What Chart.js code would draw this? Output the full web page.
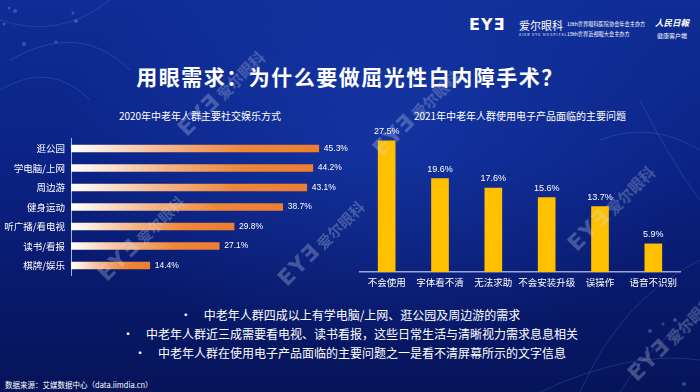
<!DOCTYPE html>
<html>
<head>
<meta charset="utf-8">
<script src="https://cdn.jsdelivr.net/npm/chart.js@4"></script>
<style>
  html,body{margin:0;padding:0;}
  body{width:700px;height:392px;overflow:hidden;position:relative;
    font-family:"Noto Sans CJK SC","Noto Sans",sans-serif;color:#fff;
    background:
      radial-gradient(ellipse at 55% 35%, rgba(30,70,190,0.45) 0%, rgba(30,70,190,0) 60%),
      linear-gradient(180deg,#0f2d95 0%,#0b2386 40%,#08196a 75%,#061459 100%);}
  .abs{position:absolute;white-space:nowrap;}
  #title{left:0;width:700px;top:61px;text-align:center;font-size:21px;font-weight:bold;letter-spacing:1.5px;}
  .ctitle{font-size:10px;top:108px;text-align:center;}
  .bul{left:0;width:700px;text-align:center;font-size:12px;}
  .bul span{margin-right:12px;}
  .wm{position:absolute;color:rgba(215,222,240,0.28);transform:rotate(-45deg);transform-origin:center;white-space:nowrap;font-weight:bold;}
  .wm b{font-family:"DejaVu Sans",sans-serif;font-size:22px;letter-spacing:1px;}
  .wm i{font-style:normal;font-family:"Noto Sans CJK SC";font-size:15px;margin-left:3px;}
  canvas{position:absolute;}
</style>
</head>
<body>
<svg class="abs" style="left:0;top:0" width="700" height="392">
  <g stroke="rgba(120,170,255,0.18)" fill="none" stroke-width="1">
    <path d="M0,20 Q60,40 110,0"/><path d="M10,60 Q80,20 130,70"/><path d="M0,90 Q50,60 90,100"/>
    <path d="M580,392 Q620,300 700,260"/><path d="M620,392 Q660,330 700,320"/><path d="M540,392 Q630,350 700,360"/>
    <path d="M600,140 Q650,120 700,150"/><path d="M640,100 Q670,160 700,200"/>
  </g>
  <g fill="rgba(120,170,255,0.35)">
    <circle cx="9" cy="8" r="1.5"/><circle cx="15" cy="11" r="2"/><circle cx="4" cy="24" r="1.5"/><circle cx="24" cy="44" r="2"/>
    <circle cx="56" cy="42" r="1.5"/><circle cx="73" cy="13" r="1.5"/><circle cx="76" cy="21" r="2"/>
    <circle cx="650" cy="331" r="2"/><circle cx="663" cy="324" r="1.5"/><circle cx="675" cy="320" r="2"/>
    <circle cx="638" cy="365" r="2"/><circle cx="684" cy="384" r="2"/><circle cx="647" cy="348" r="1.5"/>
  </g>
</svg>

<!-- logo -->
<div class="abs" style="left:469px;top:15px;font-family:'DejaVu Sans';font-weight:bold;font-size:16px;letter-spacing:1px;">EYƎ</div>
<div class="abs" style="left:519px;top:17px;font-family:'Noto Sans CJK SC';font-size:11px;">爱尔眼科</div>
<div class="abs" style="left:519px;top:32px;font-size:3.5px;letter-spacing:1px;">AIER EYE HOSPITAL</div>
<div class="abs" style="left:567px;top:20px;font-size:5.2px;">18th世界眼科医院协会年会主办方</div>
<div class="abs" style="left:567px;top:30px;font-size:5.2px;">19th世界近视眼大会主办方</div>
<div class="abs" style="left:655px;top:16px;font-size:8.5px;font-style:italic;font-weight:bold;">人民日報</div>
<div class="abs" style="left:657px;top:31px;font-size:6px;">健康客户端</div>

<div id="title" class="abs">用眼需求：为什么要做屈光性白内障手术？</div>

<div class="abs ctitle" style="left:100px;width:200px;">2020年中老年人群主要社交娱乐方式</div>
<div class="abs ctitle" style="left:410px;width:220px;">2021年中老年人群使用电子产品面临的主要问题</div>

<canvas id="left" width="350" height="160" style="left:0;top:127px;width:350px;height:160px;"></canvas>
<canvas id="right" width="350" height="180" style="left:350px;top:115px;width:350px;height:180px;"></canvas>

<div class="abs bul" style="top:306px;"><span>•</span>中老年人群四成以上有学电脑/上网、逛公园及周边游的需求</div>
<div class="abs bul" style="top:325px;"><span>•</span>中老年人群近三成需要看电视、读书看报，这些日常生活与清晰视力需求息息相关</div>
<div class="abs bul" style="top:344px;"><span>•</span>中老年人群在使用电子产品面临的主要问题之一是看不清屏幕所示的文字信息</div>

<div class="abs" style="left:5px;top:379px;font-size:7.5px;">数据来源：艾媒数据中心（data.iimdia.cn）</div>

<div class="wm" style="left:165px;top:80px;"><b>EYƎ</b><i>爱尔眼科</i></div>
<div class="wm" style="left:85px;top:225px;"><b>EYƎ</b><i>爱尔眼科</i></div>
<div class="wm" style="left:265px;top:230px;"><b>EYƎ</b><i>爱尔眼科</i></div>
<div class="wm" style="left:360px;top:100px;"><b>EYƎ</b><i>爱尔眼科</i></div>
<div class="wm" style="left:555px;top:195px;"><b>EYƎ</b><i>爱尔眼科</i></div>
<div class="wm" style="left:615px;top:325px;"><b>EYƎ</b><i>爱尔眼科</i></div>

<script>
const leftCats = ['逛公园','学电脑/上网','周边游','健身运动','听广播/看电视','读书/看报','棋牌/娱乐'];
const leftVals = [45.3, 44.2, 43.1, 38.7, 29.8, 27.1, 14.4];
const rightCats = ['不会使用','字体看不清','无法求助','不会安装升级','误操作','语音不识别'];
const rightVals = [27.5, 19.6, 17.6, 15.6, 13.7, 5.9];

const CJK = '"Noto Sans CJK SC","Noto Sans",sans-serif';

function valueLabels(fontSize, horizontal){
  return {
    id:'vlabels',
    afterDatasetsDraw(chart){
      const c = chart.ctx;
      const meta = chart.getDatasetMeta(0);
      c.save();
      c.fillStyle = '#ffffff';
      c.font = fontSize + 'px "Liberation Sans", sans-serif';
      meta.data.forEach((bar, i) => {
        const v = chart.data.datasets[0].data[i].toFixed(1) + '%';
        if(horizontal){
          c.textAlign = 'left'; c.textBaseline = 'middle';
          c.fillText(v, bar.x + 5, bar.y);
        }else{
          c.textAlign = 'center'; c.textBaseline = 'bottom';
          c.fillText(v, bar.x, bar.y - 5);
        }
      });
      c.restore();
    }
  };
}

function barGradient(context){
  const chart = context.chart;
  const area = chart.chartArea;
  if(!area) return '#ed7d31';
  const x0 = area.left;
  const x1 = chart.scales.x.getPixelForValue(context.raw);
  const g = chart.ctx.createLinearGradient(x0, 0, x1, 0);
  g.addColorStop(0, '#ffffff');
  g.addColorStop(0.4, '#f5b283');
  g.addColorStop(0.7, '#ef8639');
  g.addColorStop(1, '#ed7d31');
  return g;
}

new Chart(document.getElementById('left'), {
  type:'bar',
  data:{labels:leftCats, datasets:[{data:leftVals, backgroundColor:barGradient, barThickness:7, borderWidth:0}]},
  options:{
    indexAxis:'y', responsive:false, animation:false,
    plugins:{legend:{display:false}, tooltip:{enabled:false}},
    layout:{padding:0},
    scales:{
      x:{display:false, min:0, max:51},
      y:{
        grid:{display:false, drawTicks:false},
        border:{display:true, color:'#a9b1d6', width:1},
        ticks:{color:'#ffffff', font:{family:CJK, size:9.5}, padding:6},
        afterFit(s){ s.width = 71; }
      }
    }
  },
  plugins:[valueLabels(8.5, true)]
});

new Chart(document.getElementById('right'), {
  type:'bar',
  data:{labels:rightCats, datasets:[{data:rightVals, backgroundColor:'#ffc000', barThickness:17, borderWidth:0}]},
  options:{
    responsive:false, animation:false,
    plugins:{legend:{display:false}, tooltip:{enabled:false}},
    layout:{padding:{top:14, left:10, right:20, bottom:0}},
    scales:{
      y:{display:false, min:0, max:30},
      x:{
        grid:{display:false, drawTicks:false},
        border:{display:true, color:'#9ea5cc', width:1.5},
        ticks:{color:'#ffffff', font:{family:CJK, size:9.5}, padding:5, maxRotation:0, minRotation:0, autoSkip:false},
        afterFit(s){ s.height = 23; }
      }
    }
  },
  plugins:[valueLabels(9, false)]
});
</script>
</body>
</html>
